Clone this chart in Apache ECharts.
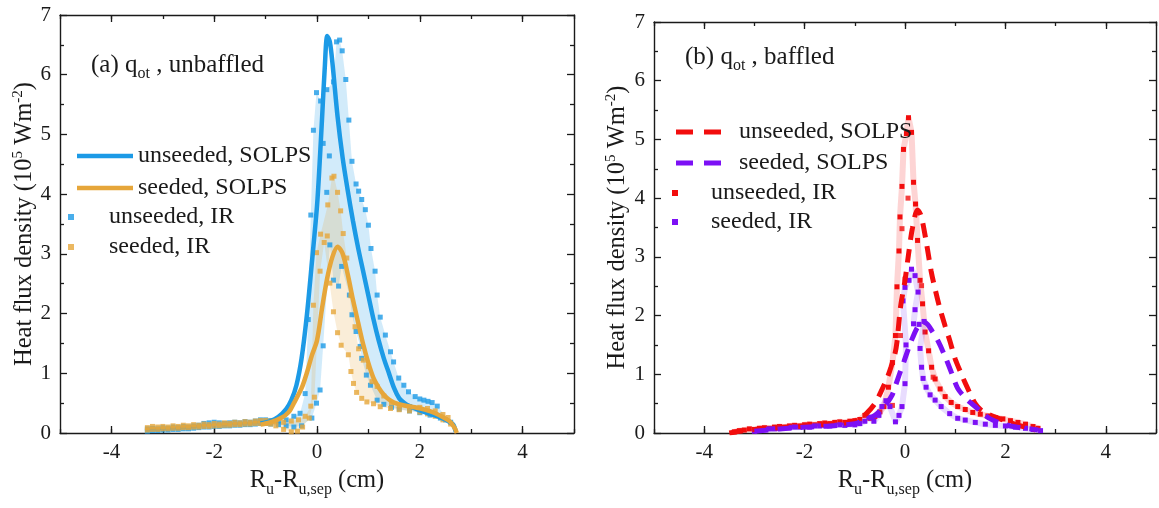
<!DOCTYPE html>
<html><head><meta charset="utf-8">
<script src="https://cdn.jsdelivr.net/npm/echarts@6/dist/echarts.min.js"></script>
<style>html,body{margin:0;padding:0;background:#fff}#c{width:1159px;height:508px}</style>
</head><body><div id="c"></div>
<script>
// ---------- tick values ----------
const xMajorTicks = [-4, -2, 0, 2, 4];
const yTickLabels = [0, 1, 2, 3, 4, 5, 6, 7];

// ---------- panel (a): unbaffled ----------
const aUnseededSolps = [[-1.1,0.16],[-0.9,0.2],[-0.75,0.27],[-0.6,0.4],[-0.5,0.55],[-0.4,0.8],[-0.3,1.25],[-0.2,1.95],[-0.1,2.85],[0,3.8],[0.05,4.5],[0.1,5.3],[0.15,6.1],[0.2,6.65],[0.25,6.55],[0.3,6.2],[0.4,5.3],[0.5,4.6],[0.6,4.05],[0.7,3.55],[0.8,3.1],[0.9,2.7],[1.0,2.3],[1.1,1.9],[1.2,1.55],[1.3,1.25],[1.4,1.0],[1.5,0.75],[1.6,0.58],[1.7,0.5],[1.8,0.45],[2.0,0.38],[2.2,0.32],[2.4,0.26],[2.55,0.2],[2.65,0.14],[2.7,0.02]];
const aSeededSolps = [[-1.1,0.14],[-0.9,0.18],[-0.7,0.25],[-0.55,0.35],[-0.45,0.5],[-0.3,0.75],[-0.2,1.0],[-0.1,1.3],[0,1.55],[0.1,2.1],[0.2,2.6],[0.3,2.95],[0.4,3.12],[0.5,3.0],[0.6,2.65],[0.7,2.23],[0.8,1.85],[0.9,1.48],[1.0,1.17],[1.1,0.92],[1.2,0.76],[1.3,0.64],[1.4,0.56],[1.5,0.51],[1.7,0.46],[1.9,0.43],[2.1,0.39],[2.3,0.33],[2.5,0.24],[2.6,0.18],[2.68,0.08],[2.72,0.0]];
const aUnseededIRUpper = [[-3.3,0.07],[-3.2,0.08],[-3.1,0.07],[-3.0,0.09],[-2.9,0.08],[-2.8,0.1],[-2.7,0.09],[-2.6,0.11],[-2.5,0.1],[-2.4,0.12],[-2.3,0.13],[-2.2,0.16],[-2.1,0.17],[-2.0,0.18],[-1.9,0.17],[-1.8,0.16],[-1.7,0.17],[-1.6,0.18],[-1.5,0.17],[-1.4,0.19],[-1.3,0.18],[-1.2,0.2],[-1.1,0.22],[-1.0,0.22],[-0.9,0.21],[-0.75,0.2],[-0.6,0.22],[-0.45,0.28],[-0.33,0.33],[-0.23,0.66],[-0.17,1.9],[-0.12,3.65],[-0.07,5.07],[-0.01,5.7],[0.07,5.56],[0.19,5.75],[0.32,5.88],[0.38,6.55],[0.44,6.58],[0.49,6.4],[0.56,5.92],[0.62,5.24],[0.68,4.55],[0.76,4.17],[0.81,4.05],[0.87,3.91],[0.94,3.74],[1.0,3.48],[1.05,3.09],[1.13,2.71],[1.17,2.31],[1.23,1.94],[1.33,1.64],[1.43,1.36],[1.49,1.19],[1.59,0.92],[1.69,0.8],[1.78,0.69],[1.91,0.61],[2.0,0.57],[2.08,0.55],[2.16,0.53],[2.24,0.51],[2.34,0.45]];
const aUnseededIRLower = [[-3.3,0.03],[-3.2,0.04],[-3.1,0.04],[-3.0,0.05],[-2.9,0.05],[-2.8,0.06],[-2.7,0.06],[-2.6,0.07],[-2.5,0.07],[-2.4,0.08],[-2.3,0.09],[-2.2,0.1],[-2.1,0.1],[-2.0,0.11],[-1.9,0.11],[-1.8,0.12],[-1.7,0.12],[-1.6,0.13],[-1.5,0.13],[-1.4,0.14],[-1.3,0.14],[-1.2,0.15],[-1.1,0.16],[-1.0,0.16],[-0.9,0.15],[-0.75,0.14],[-0.6,0.12],[-0.45,0.1],[-0.3,0.12],[-0.1,0.25],[-0.01,0.5],[0.06,0.72],[0.12,1.46],[0.25,3.15],[0.32,2.56],[0.42,2.46],[0.48,2.79],[0.63,2.31],[0.68,1.98],[0.76,1.7],[0.84,1.45],[0.87,1.25],[0.96,0.97],[1.04,0.8],[1.17,0.55],[1.3,0.48],[1.45,0.43],[1.6,0.4],[1.8,0.37],[2.0,0.34],[2.2,0.3],[2.4,0.25],[2.5,0.22],[2.6,0.18]];
const aUnseededIRInner = [[0.12,4.85],[0.19,4.03],[0.24,4.64]];
const aSeededIRUpper = [[-3.3,0.09],[-3.2,0.11],[-3.1,0.1],[-3.0,0.11],[-2.9,0.1],[-2.8,0.12],[-2.7,0.11],[-2.6,0.13],[-2.5,0.12],[-2.4,0.14],[-2.3,0.13],[-2.2,0.15],[-2.1,0.14],[-2.0,0.16],[-1.9,0.15],[-1.8,0.17],[-1.7,0.16],[-1.6,0.18],[-1.5,0.17],[-1.4,0.19],[-1.3,0.18],[-1.2,0.2],[-1.1,0.21],[-1.0,0.21],[-0.9,0.2],[-0.8,0.19],[-0.65,0.18],[-0.5,0.2],[-0.36,0.22],[-0.23,0.28],[-0.12,0.45],[-0.07,2.14],[-0.01,3.02],[0.07,3.33],[0.21,3.82],[0.29,4.27],[0.33,4.3],[0.4,4.03],[0.46,3.72],[0.51,3.34],[0.58,2.93],[0.66,2.3],[0.74,1.78],[0.81,1.41],[0.9,1.22],[1.0,1.11],[1.07,0.86],[1.17,0.78],[1.3,0.62],[1.45,0.5],[1.6,0.46],[1.8,0.44],[2.0,0.43],[2.15,0.41],[2.3,0.37],[2.45,0.31],[2.55,0.26]];
const aSeededIRLower = [[-3.3,0.05],[-3.2,0.06],[-3.1,0.06],[-3.0,0.07],[-2.9,0.07],[-2.8,0.08],[-2.7,0.08],[-2.6,0.09],[-2.5,0.09],[-2.4,0.1],[-2.3,0.1],[-2.2,0.11],[-2.1,0.11],[-2.0,0.12],[-1.9,0.12],[-1.8,0.13],[-1.7,0.13],[-1.6,0.14],[-1.5,0.14],[-1.4,0.15],[-1.3,0.15],[-1.2,0.16],[-1.1,0.16],[-1.0,0.16],[-0.9,0.15],[-0.8,0.12],[-0.65,0.06],[-0.5,0.02],[-0.38,0.03],[-0.28,0.1],[-0.15,0.25],[-0.05,0.6],[0.06,2.71],[0.14,3.19],[0.32,2.03],[0.4,1.68],[0.47,1.47],[0.61,1.31],[0.66,1.03],[0.71,0.83],[0.77,0.68],[0.87,0.58],[0.97,0.52],[1.1,0.49],[1.23,0.44],[1.43,0.41],[1.6,0.39],[1.8,0.37],[2.0,0.35],[2.15,0.32],[2.3,0.28],[2.45,0.22],[2.6,0.15]];
const aSeededIRInner = [[0.25,2.51],[0.2,3.3]];

// ---------- panel (b): baffled ----------
const bUnseededSolps = [[-3.5,0.0],[-3.3,0.03],[-3.0,0.06],[-2.5,0.09],[-2.0,0.12],[-1.5,0.15],[-1.2,0.17],[-1.0,0.2],[-0.9,0.25],[-0.77,0.33],[-0.6,0.5],[-0.48,0.7],[-0.35,0.95],[-0.28,1.12],[-0.2,1.35],[-0.16,1.55],[-0.09,2.14],[0.0,2.6],[0.07,3.04],[0.15,3.5],[0.25,3.8],[0.32,3.7],[0.42,3.27],[0.52,2.76],[0.6,2.45],[0.69,2.14],[0.8,1.82],[0.89,1.58],[1.0,1.26],[1.12,1.01],[1.2,0.85],[1.31,0.65],[1.4,0.5],[1.5,0.4],[1.63,0.33],[1.8,0.27],[1.96,0.22],[2.1,0.18],[2.22,0.14],[2.35,0.11],[2.48,0.08],[2.6,0.05]];
const bSeededSolps = [[-3.0,0.03],[-2.5,0.07],[-2.0,0.1],[-1.5,0.12],[-1.0,0.16],[-0.8,0.22],[-0.6,0.3],[-0.45,0.42],[-0.35,0.52],[-0.26,0.64],[-0.2,0.78],[-0.12,0.98],[-0.02,1.22],[0.07,1.44],[0.15,1.62],[0.25,1.8],[0.36,1.89],[0.45,1.85],[0.55,1.72],[0.65,1.58],[0.79,1.32],[0.92,1.04],[1.05,0.76],[1.2,0.6],[1.3,0.52],[1.44,0.42],[1.55,0.33],[1.7,0.24],[1.9,0.17],[2.1,0.12],[2.3,0.09],[2.5,0.07],[2.65,0.05]];
const bUnseededIR = [[-3.4,0.02],[-3.3,0.04],[-3.2,0.05],[-3.1,0.07],[-3.0,0.06],[-2.9,0.08],[-2.8,0.09],[-2.7,0.08],[-2.6,0.1],[-2.5,0.11],[-2.4,0.1],[-2.3,0.12],[-2.2,0.13],[-2.1,0.12],[-2.0,0.14],[-1.9,0.15],[-1.8,0.14],[-1.7,0.16],[-1.6,0.17],[-1.5,0.16],[-1.4,0.18],[-1.3,0.19],[-1.2,0.18],[-1.1,0.2],[-1.0,0.21],[-0.9,0.23],[-0.8,0.3],[-0.7,0.25],[-0.6,0.28],[-0.5,0.36],[-0.42,0.45],[-0.33,0.78],[-0.25,1.2],[-0.19,1.66],[-0.16,2.49],[-0.12,3.1],[-0.1,3.68],[-0.06,4.2],[-0.03,4.83],[0.03,5.1],[0.07,5.37],[0.13,5.12],[0.17,4.27],[0.21,3.9],[0.25,3.28],[0.3,2.6],[0.35,2.2],[0.4,1.72],[0.47,1.4],[0.53,1.12],[0.6,0.92],[0.7,0.75],[0.8,0.62],[0.92,0.52],[1.05,0.45],[1.2,0.4],[1.35,0.35],[1.5,0.32],[1.65,0.29],[1.8,0.26],[1.95,0.24],[2.1,0.21],[2.25,0.18],[2.4,0.15],[2.55,0.11],[2.65,0.08]];
const bUnseededIRExtra = [[-0.25,0.47],[-0.09,1.66],[-0.06,3.48],[0.0,2.62],[0.06,4.0],[0.33,2.51],[0.56,0.95]];
const bSeededIR = [[-3.0,0.03],[-2.9,0.05],[-2.8,0.06],[-2.7,0.07],[-2.6,0.07],[-2.5,0.08],[-2.4,0.09],[-2.3,0.09],[-2.2,0.1],[-2.1,0.1],[-2.0,0.11],[-1.9,0.1],[-1.8,0.12],[-1.7,0.12],[-1.6,0.13],[-1.5,0.12],[-1.4,0.13],[-1.3,0.14],[-1.2,0.13],[-1.1,0.15],[-1.0,0.14],[-0.9,0.16],[-0.8,0.2],[-0.72,0.27],[-0.62,0.2],[-0.52,0.3],[-0.46,0.45],[-0.38,0.55],[-0.3,0.45],[-0.19,0.19],[-0.12,0.3],[-0.06,0.45],[0.0,0.84],[0.02,1.5],[-0.04,2.25],[0.0,2.48],[0.08,2.6],[0.13,2.79],[0.2,2.68],[0.26,2.4],[0.2,2.1],[0.17,1.86],[0.28,1.85],[0.38,1.9],[0.3,1.44],[0.33,1.12],[0.36,0.93],[0.42,0.78],[0.5,0.65],[0.6,0.56],[0.72,0.45],[0.89,0.33],[1.05,0.25],[1.2,0.22],[1.4,0.18],[1.6,0.15],[1.8,0.13],[2.0,0.12],[2.2,0.1],[2.4,0.08],[2.55,0.06],[2.7,0.04]];

// ---------- styling ----------
const FONT = "'Liberation Serif','Times New Roman',serif";
const INK = '#1a1a1a';
const C = {
  blue: '#1c9ae6', orange: '#e6a63a', red: '#f20d0d', purple: '#7c10f5',
  blueBand: 'rgba(28,154,230,0.2)', orangeBand: 'rgba(230,166,58,0.2)',
  redBand: 'rgba(245,60,60,0.22)', purpleBand: 'rgba(140,80,250,0.2)'
};
const axisLine = {show: true, onZero: false, lineStyle: {color: INK, width: 1.4}};
const TICK_FONT = 21;
const TITLE_FONT = 24.5;

function xAxis(grid, pos, major, labels, name) {
  const ax = {
    type: 'value', gridIndex: grid, position: pos, min: -5, max: 5, interval: 1,
    axisLine: major ? {show: false, onZero: false} : axisLine,
    axisTick: {show: true, inside: true, length: major ? 7 : 4, lineStyle: {color: INK, width: 1.3}},
    axisLabel: {show: labels, margin: 9, fontFamily: FONT, fontSize: TICK_FONT, color: INK,
      formatter: v => (xMajorTicks.indexOf(v) >= 0 ? String(v) : '')},
    splitLine: {show: false}
  };
  if (major) ax.axisTick.customValues = xMajorTicks;
  if (name) {
    ax.name = '{a|R}{b|u}{a|-R}{b|u,sep}{a| (cm)}';
    ax.nameLocation = 'middle';
    ax.nameGap = 11;
    ax.nameTextStyle = {color: INK, rich: {
      a: {fontFamily: FONT, fontSize: TITLE_FONT, color: INK, lineHeight: 34},
      b: {fontFamily: FONT, fontSize: 16, color: INK, lineHeight: 34, verticalAlign: 'bottom'}
    }};
  }
  return ax;
}
function yAxis(grid, pos, labels, name, gap) {
  const ax = {
    type: 'value', gridIndex: grid, position: pos, min: 0, max: 7, interval: 1,
    axisLine: axisLine,
    axisTick: {show: true, inside: true, length: 7, lineStyle: {color: INK, width: 1.3}},
    minorTick: {show: true, splitNumber: 2, length: 4, lineStyle: {color: INK, width: 1.3}},
    axisLabel: {show: labels, margin: 9, fontFamily: FONT, fontSize: TICK_FONT, color: INK,
      formatter: v => (yTickLabels.indexOf(v) >= 0 ? String(v) : '')},
    splitLine: {show: false}
  };
  if (name) {
    ax.name = '{a|Heat flux density (10}{s|5}{a| Wm}{s|-2}{a|)}';
    ax.nameLocation = 'middle';
    ax.nameGap = gap;
    ax.nameTextStyle = {color: INK, rich: {
      a: {fontFamily: FONT, fontSize: TITLE_FONT, color: INK, lineHeight: 28},
      s: {fontFamily: FONT, fontSize: 15, color: INK, lineHeight: 28, verticalAlign: 'top'}
    }};
  }
  return ax;
}

function band(upper, lower, color, xi, yi) {
  const loop = upper.concat(lower.slice().reverse());
  return {
    type: 'custom', xAxisIndex: xi, yAxisIndex: yi, data: loop, silent: true, z: 1,
    encode: {x: 0, y: 1},
    renderItem: (params, api) => {
      if (params.dataIndex !== 0) return null;
      return {type: 'polygon', shape: {points: loop.map(p => api.coord(p))}, style: {fill: color}};
    }
  };
}

const SQ = 'path://M0,0H6V6H0Z';
const legendText = {fontFamily: FONT, fontSize: 24, color: INK, lineHeight: 26};
const fmt = n => n.slice(2);
const annRich = {a: {fontFamily: FONT, fontSize: 25, fill: INK, color: INK, lineHeight: 32},
                 s: {fontFamily: FONT, fontSize: 16, fill: INK, color: INK, lineHeight: 32, verticalAlign: 'bottom'}};

const option = {
  animation: false,
  backgroundColor: '#fff',
  grid: [
    {left: 60, top: 15, width: 514, height: 418},
    {left: 654, top: 22, width: 512, height: 411}
  ],
  xAxis: [
    xAxis(0, 'bottom', false, true, true), xAxis(0, 'bottom', true, false),
    xAxis(0, 'top', false, false), xAxis(0, 'top', true, false),
    xAxis(1, 'bottom', false, true, true), xAxis(1, 'bottom', true, false),
    xAxis(1, 'top', false, false), xAxis(1, 'top', true, false)
  ],
  yAxis: [
    yAxis(0, 'left', true, true, 20), yAxis(0, 'right', false),
    yAxis(1, 'left', true, true, 22), yAxis(1, 'right', false)
  ],
  legend: [
    {orient: 'vertical', left: 77, top: 143, padding: 0, itemGap: 6, itemWidth: 56, itemHeight: 14,
     selectedMode: false, formatter: fmt, textStyle: legendText,
     data: [{name: 'a-unseeded, SOLPS', icon: 'path://M0,0H56V4.5H0Z'}, {name: 'a-seeded, SOLPS', icon: 'path://M0,0H56V4.5H0Z'}]},
    {orient: 'vertical', left: 68, top: 204, padding: 0, itemGap: 4, itemWidth: 66, itemHeight: 6,
     selectedMode: false, formatter: fmt, textStyle: legendText,
     data: [{name: 'a-unseeded, IR', icon: SQ}, {name: 'a-seeded, IR', icon: SQ}]},
    {orient: 'vertical', left: 676, top: 119, padding: 0, itemGap: 5, itemWidth: 45, itemHeight: 14,
     selectedMode: false, formatter: fmt, textStyle: Object.assign({padding: [0, 0, 0, 13]}, legendText),
     data: [{name: 'b-unseeded, SOLPS', icon: 'path://M0,0H17V5H0Z M28,0H45V5H28Z'}, {name: 'b-seeded, SOLPS', icon: 'path://M0,0H17V5H0Z M28,0H45V5H28Z'}]},
    {orient: 'vertical', left: 672, top: 180, padding: 0, itemGap: 3, itemWidth: 62, itemHeight: 6,
     selectedMode: false, formatter: fmt, textStyle: legendText,
     data: [{name: 'b-unseeded, IR', icon: SQ}, {name: 'b-seeded, IR', icon: SQ}]}
  ],
  graphic: [
    {type: 'text', left: 91, top: 53, style: {text: '{a|(a) q}{s|ot}{a| , unbaffled}', rich: annRich}},
    {type: 'text', left: 685, top: 45, style: {text: '{a|(b) q}{s|ot}{a| , baffled}', rich: annRich}}
  ],
  series: [
    band(aUnseededIRUpper, aUnseededIRLower, C.blueBand, 0, 0),
    band(aSeededIRUpper, aSeededIRLower, C.orangeBand, 0, 0),
    {type: 'scatter', name: 'a-unseeded, IR', xAxisIndex: 0, yAxisIndex: 0, z: 3, symbol: 'rect', symbolSize: 5,
     itemStyle: {color: C.blue}, data: aUnseededIRUpper.concat(aUnseededIRLower, aUnseededIRInner)},
    {type: 'scatter', name: 'a-seeded, IR', xAxisIndex: 0, yAxisIndex: 0, z: 3, symbol: 'rect', symbolSize: 5,
     itemStyle: {color: C.orange}, data: aSeededIRUpper.concat(aSeededIRLower, aSeededIRInner)},
    {type: 'line', name: 'a-unseeded, SOLPS', xAxisIndex: 0, yAxisIndex: 0, z: 4, symbol: 'none', smooth: 0.3,
     itemStyle: {color: C.blue}, lineStyle: {color: C.blue, width: 4.5}, data: aUnseededSolps},
    {type: 'line', name: 'a-seeded, SOLPS', xAxisIndex: 0, yAxisIndex: 0, z: 4, symbol: 'none', smooth: 0.3,
     itemStyle: {color: C.orange}, lineStyle: {color: C.orange, width: 4.5}, data: aSeededSolps},

    {type: 'line', name: 'b-unseeded, IR', xAxisIndex: 4, yAxisIndex: 2, z: 2, symbol: 'rect', symbolSize: 5, showSymbol: true,
     itemStyle: {color: C.red}, lineStyle: {color: C.redBand, width: 6}, data: bUnseededIR},
    {type: 'scatter', name: 'b-unseeded, IR', xAxisIndex: 4, yAxisIndex: 2, z: 2, symbol: 'rect', symbolSize: 5,
     itemStyle: {color: C.red}, data: bUnseededIRExtra},
    {type: 'line', name: 'b-seeded, IR', xAxisIndex: 4, yAxisIndex: 2, z: 3, symbol: 'rect', symbolSize: 5, showSymbol: true,
     itemStyle: {color: C.purple}, lineStyle: {color: C.purpleBand, width: 6}, data: bSeededIR},
    {type: 'line', name: 'b-unseeded, SOLPS', xAxisIndex: 4, yAxisIndex: 2, z: 4, symbol: 'none', smooth: 0.3,
     itemStyle: {color: C.red}, lineStyle: {color: C.red, width: 5, type: [14, 9]}, data: bUnseededSolps},
    {type: 'line', name: 'b-seeded, SOLPS', xAxisIndex: 4, yAxisIndex: 2, z: 4, symbol: 'none', smooth: 0.3,
     itemStyle: {color: C.purple}, lineStyle: {color: C.purple, width: 5, type: [14, 9]}, data: bSeededSolps}
  ]
};
const chart = echarts.init(document.getElementById('c'), null, {renderer: 'canvas'});
chart.setOption(option);
</script>
</body></html>
